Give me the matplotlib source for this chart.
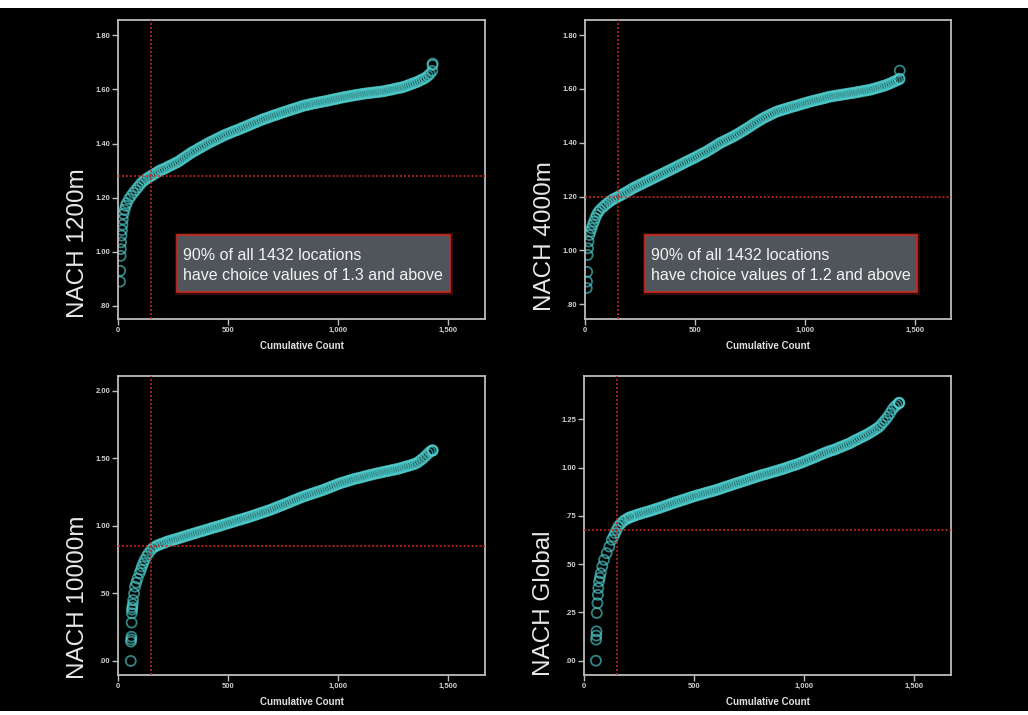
import matplotlib
matplotlib.use('Agg')
import matplotlib.pyplot as plt
from matplotlib.patches import Rectangle

plt.rcParams['font.family'] = ['Liberation Sans', 'DejaVu Sans']

# ---------------- data ----------------
grid = list(range(210, 1431, 10))   # regular cumulative-count positions used for readings

p1_counts = [9, 10, 12, 13, 14, 16, 18, 20, 22, 25, 30, 35, 40, 50, 60, 70, 80, 90, 100, 110,
             120, 130, 140, 150, 160, 170, 180, 190, 200] + grid + [1431, 1432]
p1_values = [0.89, 0.93, 0.985, 1.01, 1.035, 1.06, 1.08, 1.10, 1.12, 1.14, 1.155, 1.17, 1.18, 1.195,
             1.207, 1.218, 1.228, 1.238, 1.248, 1.257, 1.264, 1.270, 1.275, 1.280, 1.285, 1.290,
             1.295, 1.300, 1.304,
             1.306, 1.311, 1.315, 1.319, 1.323, 1.327, 1.331,
             1.336, 1.342, 1.347, 1.353, 1.358, 1.364, 1.369,
             1.373, 1.378, 1.383, 1.387, 1.392, 1.396, 1.401,
             1.405, 1.409, 1.413, 1.417, 1.421, 1.425, 1.429,
             1.433, 1.436, 1.439, 1.443, 1.446, 1.449, 1.452, 1.456, 1.459,
             1.462, 1.466, 1.469, 1.473, 1.476, 1.479, 1.483, 1.486, 1.490,
             1.492, 1.495, 1.498, 1.501, 1.504, 1.506, 1.509, 1.512, 1.515,
             1.517, 1.520, 1.523, 1.525, 1.528, 1.530, 1.533, 1.536, 1.538,
             1.541, 1.542, 1.544, 1.546, 1.548, 1.549, 1.551, 1.553, 1.554,
             1.556, 1.557, 1.559, 1.561, 1.563, 1.564, 1.566, 1.568, 1.570,
             1.571, 1.573, 1.574, 1.576, 1.577, 1.579, 1.580, 1.581, 1.583,
             1.584, 1.585, 1.586, 1.587, 1.588, 1.589, 1.590, 1.591, 1.592,
             1.593, 1.595, 1.597, 1.598, 1.600, 1.602, 1.604, 1.605, 1.607, 1.609,
             1.612, 1.615, 1.618, 1.621, 1.624, 1.627,
             1.631, 1.635, 1.639, 1.643, 1.650, 1.657, 1.668,
             1.690, 1.695]

p2_counts = [8, 9, 10, 12, 14, 16, 20, 25, 30, 35, 41, 47, 53, 60, 68, 80, 90, 100, 110, 120,
             130, 140, 150, 160, 170, 180, 190, 200] + grid + [1431, 1432]
p2_values = [0.86, 0.884, 0.92, 0.983, 1.008, 1.033, 1.057, 1.07, 1.082, 1.095, 1.107, 1.12, 1.132,
             1.142, 1.15, 1.160, 1.167, 1.174, 1.180, 1.186, 1.191, 1.195, 1.199, 1.204, 1.208,
             1.213, 1.217, 1.222,
             1.227, 1.232, 1.236, 1.240, 1.244, 1.248, 1.252,
             1.256, 1.260, 1.264, 1.268, 1.272, 1.276, 1.280, 1.284,
             1.288, 1.292, 1.296, 1.300, 1.304, 1.308, 1.312, 1.317,
             1.320, 1.325, 1.329, 1.333, 1.337, 1.341,
             1.345, 1.349, 1.354, 1.358, 1.362, 1.366,
             1.371, 1.376, 1.381, 1.386, 1.391, 1.397,
             1.401, 1.405, 1.409, 1.413, 1.417, 1.421, 1.426, 1.430,
             1.435, 1.440, 1.445, 1.450, 1.455, 1.460,
             1.466, 1.471, 1.476, 1.481, 1.486, 1.491,
             1.495, 1.499, 1.503, 1.507, 1.511, 1.515,
             1.518, 1.520, 1.523, 1.525, 1.528, 1.530, 1.533,
             1.535, 1.537, 1.540, 1.542, 1.545, 1.547, 1.549, 1.552,
             1.554, 1.556, 1.558, 1.560, 1.562, 1.564, 1.566, 1.568, 1.571,
             1.572, 1.573, 1.575, 1.576, 1.577, 1.579, 1.580, 1.581, 1.583,
             1.584, 1.585, 1.587, 1.588, 1.590, 1.591, 1.593, 1.594, 1.596,
             1.597, 1.600, 1.602, 1.604, 1.607, 1.609, 1.612, 1.614,
             1.618, 1.621, 1.625, 1.629, 1.632, 1.636,
             1.638, 1.668]

p3_counts = [58, 59, 60, 61, 62, 63, 64, 65, 67, 69, 73, 77, 83, 89, 98, 104, 109, 115, 121, 130,
             139, 150, 160, 170, 180, 190, 200] + grid + [1431, 1432]
p3_values = [0.0, 0.143, 0.16, 0.18, 0.284, 0.353, 0.38, 0.397, 0.42, 0.451, 0.50, 0.55, 0.58,
             0.61, 0.65, 0.675, 0.70, 0.723, 0.747, 0.775, 0.797, 0.822, 0.838, 0.848, 0.856,
             0.863, 0.869,
             0.874, 0.882, 0.887, 0.892, 0.896, 0.901, 0.906,
             0.911, 0.916, 0.921, 0.926, 0.931, 0.936, 0.941, 0.946, 0.951, 0.956,
             0.960, 0.965, 0.970, 0.975, 0.980, 0.985, 0.990, 0.994,
             0.999, 1.004, 1.009, 1.014, 1.019, 1.024, 1.029,
             1.034, 1.039, 1.044, 1.048, 1.053, 1.058, 1.063, 1.068,
             1.073, 1.079, 1.084, 1.090, 1.095, 1.101, 1.106, 1.112, 1.117,
             1.123, 1.130, 1.136, 1.143, 1.149, 1.155, 1.162, 1.168,
             1.175, 1.182, 1.189, 1.195, 1.202, 1.209, 1.215,
             1.221, 1.226, 1.232, 1.237, 1.243, 1.248, 1.253, 1.259, 1.264,
             1.270, 1.277, 1.283, 1.290, 1.296, 1.302, 1.309, 1.315,
             1.320, 1.325, 1.330, 1.335, 1.340, 1.345, 1.350,
             1.353, 1.357, 1.361, 1.366, 1.370, 1.374, 1.378, 1.382, 1.386,
             1.390, 1.393, 1.397, 1.400, 1.404, 1.407, 1.411, 1.414, 1.418, 1.421, 1.425,
             1.430, 1.435, 1.440, 1.444, 1.449, 1.454, 1.459,
             1.466, 1.478, 1.490, 1.503, 1.518, 1.535, 1.550, 1.557,
             1.558, 1.560]

p4_counts = [54, 55, 56, 57, 58, 61, 63, 65, 68, 72, 76, 83, 91, 103, 115, 126, 134, 141, 148,
             156, 166, 176, 186, 196, 206] + grid + [1431, 1432]
p4_values = [0.0, 0.109, 0.13, 0.152, 0.247, 0.298, 0.341, 0.376, 0.41, 0.43, 0.453, 0.488, 0.522,
             0.557, 0.591, 0.626, 0.643, 0.66, 0.677, 0.695, 0.708, 0.72, 0.729, 0.735, 0.741,
             0.743, 0.747, 0.751, 0.755,
             0.759, 0.762, 0.766, 0.769, 0.772, 0.776, 0.779, 0.783,
             0.787, 0.790, 0.794, 0.798, 0.802, 0.806, 0.810, 0.814,
             0.818, 0.822, 0.825, 0.829, 0.833, 0.836, 0.840, 0.844, 0.848,
             0.851, 0.855, 0.858, 0.861, 0.864, 0.868, 0.871, 0.874, 0.877, 0.880, 0.884,
             0.887, 0.891, 0.895, 0.899, 0.903, 0.906, 0.910, 0.914, 0.918,
             0.921, 0.925, 0.929, 0.932, 0.936, 0.940, 0.944, 0.947, 0.951,
             0.955, 0.958, 0.962, 0.965, 0.968, 0.971, 0.975, 0.978, 0.981, 0.985, 0.988,
             0.992, 0.995, 0.999, 1.003, 1.007, 1.011, 1.014, 1.018, 1.022,
             1.027, 1.031, 1.036, 1.041, 1.045, 1.050, 1.054, 1.059,
             1.065, 1.069, 1.074, 1.078, 1.083, 1.087, 1.090,
             1.094, 1.099, 1.104, 1.108, 1.113, 1.118, 1.122, 1.127,
             1.134, 1.140, 1.145, 1.151, 1.157, 1.162, 1.168,
             1.174, 1.181, 1.188, 1.195, 1.203, 1.210,
             1.222, 1.236, 1.249, 1.263,
             1.281, 1.300, 1.314, 1.324, 1.333,
             1.334, 1.336]

titles = ['NACH 1200m', 'NACH 4000m', 'NACH 10000m', 'NACH Global']
counts_all = [p1_counts, p2_counts, p3_counts, p4_counts]
values_all = [p1_values, p2_values, p3_values, p4_values]

yticks_all = [[0.8, 1.0, 1.2, 1.4, 1.6, 1.8],
              [0.8, 1.0, 1.2, 1.4, 1.6, 1.8],
              [0.0, 0.5, 1.0, 1.5, 2.0],
              [0.0, 0.25, 0.5, 0.75, 1.0, 1.25]]
ylabels_all = [['.80', '1.00', '1.20', '1.40', '1.60', '1.80'],
               ['.80', '1.00', '1.20', '1.40', '1.60', '1.80'],
               ['.00', '.50', '1.00', '1.50', '2.00'],
               ['.00', '.25', '.50', '.75', '1.00', '1.25']]
ylims_all = [(0.752, 1.856), (0.745, 1.856), (-0.104, 2.11), (-0.074, 1.474)]
xlims_all = [(0, 1670), (0, 1665), (0, 1670), (0, 1667)]
xticks = [0, 500, 1000, 1500]
xticklabels = ['0', '500', '1,000', '1,500']

vline_x = [149, 151, 151, 148]          # 10% of locations
hline_y = [1.28, 1.20, 0.853, 0.678]    # value at that point

box_texts = [('90% of all 1432 locations', 'have choice values of 1.3 and above'),
             ('90% of all 1432 locations', 'have choice values of 1.2 and above')]

# ---------------- layout (pixels) ----------------
W, H = 1028, 715
fig = plt.figure(figsize=(W / 100, H / 100), dpi=100, facecolor='black')

def fr(l, t, r, b):
    return [l / W, 1 - b / H, (r - l) / W, (b - t) / H]

rects = [(118, 20, 485, 319), (585, 20, 951, 319), (118, 376, 485, 675), (584, 376, 951, 675)]
label_x = [78, 545, 78, 544]
label_bottom = [318, 311, 679, 676]
box_rects = [(177, 235, 450, 292), (645, 235, 917, 292)]

spine_c = '#bdbdbd'
tick_c = '#d0d0d0'
pt_color = (0.32, 0.84, 0.84, 0.62)
red = '#d42a22'

for i in range(4):
    ax = fig.add_axes(fr(*rects[i]))
    ax.set_facecolor('black')
    ax.scatter(counts_all[i], values_all[i], s=52, facecolors='none',
               edgecolors=[pt_color], linewidths=1.3, zorder=2)
    ax.axvline(vline_x[i], color=red, ls=(0, (1.3, 1.3)), lw=1.1, zorder=3)
    ax.axhline(hline_y[i], color=red, ls=(0, (1.3, 1.3)), lw=1.1, zorder=3)
    ax.set_xlim(*xlims_all[i])
    ax.set_ylim(*ylims_all[i])
    ax.set_xticks(xticks)
    ax.set_xticklabels(xticklabels, fontsize=5.5, fontweight='bold', color=tick_c)
    ax.set_yticks(yticks_all[i])
    ax.set_yticklabels(ylabels_all[i], fontsize=5.5, fontweight='bold', color=tick_c)
    ax.tick_params(axis='both', direction='out', length=4, width=1.0, color=spine_c, pad=1.5)
    for s in ax.spines.values():
        s.set_color(spine_c)
        s.set_linewidth(1.3)
    ax.set_xlabel('Cumulative Count', fontsize=7, fontweight='bold', color='#e0e0e0', labelpad=5)
    fig.text(label_x[i] / W, 1 - label_bottom[i] / H, titles[i], rotation=90,
             ha='center', va='bottom', fontsize=17.5, color='#e8e8e8')

for j in range(2):
    l, t, r, b = box_rects[j]
    glow = Rectangle((l / W, 1 - b / H), (r - l) / W, (b - t) / H, transform=fig.transFigure,
                     facecolor='none', edgecolor=(0.85, 0.2, 0.15, 0.25), lw=3.5, zorder=9)
    box = Rectangle((l / W, 1 - b / H), (r - l) / W, (b - t) / H, transform=fig.transFigure,
                    facecolor='#50555b', edgecolor='#cc2a1e', lw=1.2, zorder=10)
    fig.add_artist(glow)
    fig.add_artist(box)
    fig.text((l + 6) / W, 1 - (t + 20) / H, box_texts[j][0], ha='left', va='center',
             fontsize=11.5, color='#f2f2f2', zorder=11)
    fig.text((l + 6) / W, 1 - (t + 40) / H, box_texts[j][1], ha='left', va='center',
             fontsize=11.5, color='#f2f2f2', zorder=11)

# white strips at the top and bottom edges of the original screenshot
fig.add_artist(Rectangle((0, 1 - 8 / H), 1, 8 / H, transform=fig.transFigure,
                         facecolor='white', edgecolor='none', zorder=20))
fig.add_artist(Rectangle((0, 0), 1, 4 / H, transform=fig.transFigure,
                         facecolor='white', edgecolor='none', zorder=20))

fig.savefig('out.png', dpi=100, facecolor='black')
